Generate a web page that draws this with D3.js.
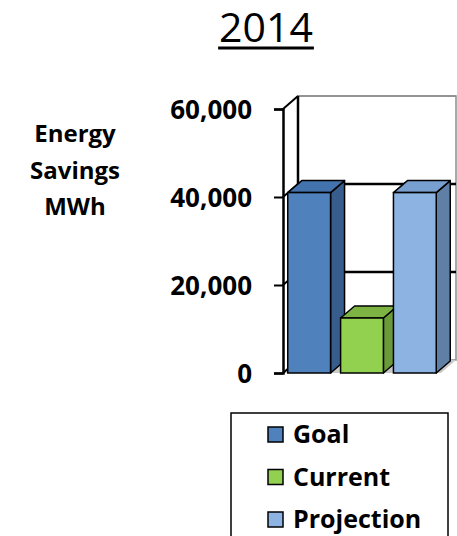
<!DOCTYPE html>
<html lang="en">

<head>
  <meta charset="utf-8">
  <title>2014 Energy Savings</title>
  <script src="https://cdn.jsdelivr.net/npm/d3@7"></script>
  <style>
    body {
      margin: 0;
      background: #fff;
    }

    text {
      font-family: "Open Sans", sans-serif;
      fill: #000;
    }

    .tick-label,
    .axis-title,
    .legend-label {
      font-weight: bold;
    }
  </style>
</head>

<body>
  <div id="box"></div>
  <script>
    // canvas
    const width = 457
    const height = 536

    // data
    const title = '2014'
    const series = ['Goal', 'Current', 'Projection']
    const values = [41000, 12500, 41000]
    const yTicks = [0, 20000, 40000, 60000]
    const axisTitle = ['Energy', 'Savings', 'MWh']

    // colours: front, top, side
    const frontColors = ['#4f81bd', '#92d050', '#8db3e2']
    const topColors = ['#4373ad', '#7cb342', '#779fcf']
    const sideColors = ['#375d8c', '#6a9a3a', '#5f7fa6']

    // plot area (front plane) and depth offset of the 3D box
    const plot = { left: 283, right: 441, top: 109, bottom: 373 }
    const depth = { dx: 15, dy: -13 }
    const barDepth = { dx: 14, dy: -12 }

    const yScale = d3.scaleLinear()
      .domain([0, 60000])
      .range([plot.bottom, plot.top])

    const xScale = d3.scaleBand()
      .domain(series)
      .range([plot.left, plot.right])
      .paddingInner(0.19)
      .paddingOuter(0.09)

    const svg = d3.select('#box')
      .append('svg')
      .attr('width', width)
      .attr('height', height)

    // title with underline
    const titleText = svg.append('text')
      .attr('x', 266)
      .attr('y', 42)
      .attr('text-anchor', 'middle')
      .style('font-size', '41px')
      .text(title)
    const tb = titleText.node().getBBox()
    svg.append('line')
      .attr('x1', tb.x - 1)
      .attr('x2', tb.x + tb.width + 1)
      .attr('y1', 48)
      .attr('y2', 48)
      .attr('stroke', '#000')
      .attr('stroke-width', 3)

    // axis title
    svg.append('g')
      .selectAll('text')
      .data(axisTitle)
      .enter()
      .append('text')
      .attr('class', 'axis-title')
      .attr('x', 75)
      .attr('y', (d, i) => 142 + i * 36.5)
      .attr('text-anchor', 'middle')
      .style('font-size', '24px')
      .text(d => d)

    const y0 = yScale(0)
    const yTop = yScale(60000)

    // back wall
    svg.append('rect')
      .attr('x', plot.left + depth.dx)
      .attr('y', yTop + depth.dy)
      .attr('width', plot.right - plot.left)
      .attr('height', y0 - yTop)
      .attr('fill', '#fff')
      .attr('stroke', '#8c8c8c')
      .attr('stroke-width', 1.5)

    // floor
    svg.append('polygon')
      .attr('points', [
        [plot.left, y0],
        [plot.left + depth.dx, y0 + depth.dy],
        [plot.right + depth.dx, y0 + depth.dy],
        [plot.right, y0]
      ].map(p => p.join(',')).join(' '))
      .attr('fill', '#c9c9c9')

    // gridlines on back wall and left wall
    const grid = svg.append('g')
    grid.selectAll('.grid-back')
      .data(yTicks.filter(d => d > 0))
      .enter()
      .append('line')
      .attr('x1', plot.left + depth.dx)
      .attr('x2', plot.right + depth.dx)
      .attr('y1', d => yScale(d) + depth.dy)
      .attr('y2', d => yScale(d) + depth.dy)
      .attr('stroke', d => d === 60000 ? '#8c8c8c' : '#000')
      .attr('stroke-width', d => d === 60000 ? 1.5 : 2.5)
    grid.selectAll('.grid-side')
      .data(yTicks)
      .enter()
      .append('line')
      .attr('x1', plot.left)
      .attr('x2', plot.left + depth.dx)
      .attr('y1', d => yScale(d))
      .attr('y2', d => yScale(d) + depth.dy)
      .attr('stroke', '#000')
      .attr('stroke-width', 2)
    // back edge of left wall
    svg.append('line')
      .attr('x1', plot.left + depth.dx)
      .attr('x2', plot.left + depth.dx)
      .attr('y1', yTop + depth.dy)
      .attr('y2', y0 + depth.dy)
      .attr('stroke', '#000')
      .attr('stroke-width', 2.5)

    // bars
    const bars = svg.append('g')
      .selectAll('g')
      .data(values)
      .enter()
      .append('g')

    const pts = arr => arr.map(p => p.join(',')).join(' ')

    bars.append('polygon')
      .attr('points', (d, i) => {
        const x = xScale(series[i]) + xScale.bandwidth()
        const y = yScale(d)
        return pts([[x, y], [x + barDepth.dx, y + barDepth.dy],
          [x + barDepth.dx, y0 + barDepth.dy], [x, y0]])
      })
      .attr('fill', (d, i) => sideColors[i])
      .attr('stroke', '#000')
      .attr('stroke-width', 1.5)
      .attr('stroke-linejoin', 'round')

    bars.append('polygon')
      .attr('points', (d, i) => {
        const x = xScale(series[i])
        const w = xScale.bandwidth()
        const y = yScale(d)
        return pts([[x, y], [x + barDepth.dx, y + barDepth.dy],
          [x + w + barDepth.dx, y + barDepth.dy], [x + w, y]])
      })
      .attr('fill', (d, i) => topColors[i])
      .attr('stroke', '#000')
      .attr('stroke-width', 1.5)
      .attr('stroke-linejoin', 'round')

    bars.append('rect')
      .attr('x', (d, i) => xScale(series[i]))
      .attr('y', d => yScale(d))
      .attr('width', xScale.bandwidth())
      .attr('height', d => y0 - yScale(d))
      .attr('fill', (d, i) => frontColors[i])
      .attr('stroke', '#000')
      .attr('stroke-width', 1.5)

    // y axis
    const yAxis = d3.axisLeft(yScale)
      .tickValues(yTicks)
      .tickSize(9)
      .tickPadding(22)
      .tickFormat(d3.format(','))

    const axisG = svg.append('g')
      .attr('transform', `translate(${plot.left},0)`)
      .call(yAxis)
    axisG.select('.domain')
      .attr('stroke', '#000')
      .attr('stroke-width', 2.5)
    axisG.selectAll('.tick line')
      .attr('stroke', '#000')
      .attr('stroke-width', 2)
    axisG.selectAll('.tick text')
      .attr('class', 'tick-label')
      .style('font-size', '26px')
      .style('font-family', '"Open Sans", sans-serif')
      .attr('dy', '0.36em')

    // legend
    const legend = svg.append('g')
    legend.append('rect')
      .attr('x', 231)
      .attr('y', 413)
      .attr('width', 217)
      .attr('height', 140)
      .attr('fill', '#fff')
      .attr('stroke', '#000')
      .attr('stroke-width', 1.5)

    const items = legend.selectAll('.item')
      .data(series)
      .enter()
      .append('g')
      .attr('transform', (d, i) => `translate(268,${427 + i * 42.5})`)

    items.append('rect')
      .attr('width', 15)
      .attr('height', 15)
      .attr('fill', (d, i) => frontColors[i])
      .attr('stroke', '#000')
      .attr('stroke-width', 1.5)

    items.append('text')
      .attr('class', 'legend-label')
      .attr('x', 25)
      .attr('y', 16)
      .style('font-size', '25px')
      .text(d => d)
  </script>
</body>

</html>
